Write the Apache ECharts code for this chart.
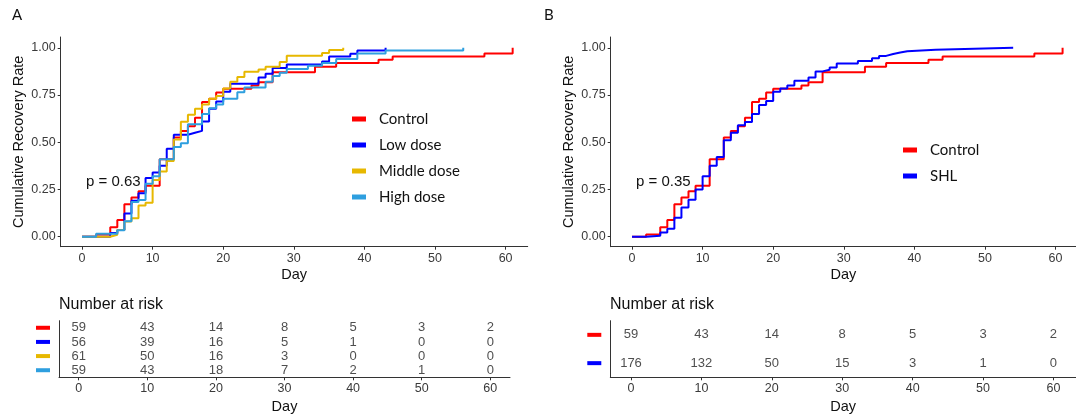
<!DOCTYPE html>
<html><head><meta charset="utf-8">
<script src="https://cdn.jsdelivr.net/npm/echarts@6/dist/echarts.min.js"></script>
<style>html,body{margin:0;padding:0;background:#fff}#c{width:1076px;height:420px}</style>
</head><body><div id="c"></div><script>
// ---- data ----
const ctrlDay  = [0, 2, 4, 5, 6, 7, 8, 9, 11, 13, 14, 15, 16, 17, 18, 19, 20, 24, 25, 27, 33, 36, 42, 44, 57, 61];
const ctrlRate = [0, 0.012, 0.05, 0.088, 0.172, 0.207, 0.24, 0.27, 0.41, 0.525, 0.56, 0.585, 0.63, 0.713, 0.73, 0.763, 0.783, 0.80, 0.818, 0.87, 0.90, 0.92, 0.937, 0.954, 0.97, 1.0];

const lowDay  = [0, 4, 5, 6, 7, 8, 9, 10, 11, 12, 13, 15, 16, 17, 18, 19, 20, 21, 25, 26, 27, 29, 34, 35, 38, 39, 43];
const lowRate = [0, 0.02, 0.035, 0.123, 0.19, 0.23, 0.31, 0.34, 0.375, 0.465, 0.54, 0.55, 0.56, 0.61, 0.677, 0.716, 0.767, 0.81, 0.843, 0.862, 0.893, 0.912, 0.927, 0.954, 0.968, 0.986, 1.0];

const midDay  = [0, 4, 5, 6, 7, 8, 9, 10, 11, 12, 13, 14, 15, 16, 17, 18, 19, 20, 21, 22, 23, 25, 26, 28, 29, 34, 35, 37];
const midRate = [0, 0.01, 0.035, 0.08, 0.097, 0.165, 0.18, 0.30, 0.345, 0.40, 0.515, 0.608, 0.645, 0.677, 0.70, 0.73, 0.745, 0.785, 0.82, 0.845, 0.873, 0.885, 0.90, 0.925, 0.958, 0.972, 0.988, 1.0];

const highDay  = [0, 2, 5, 6, 7, 8, 9, 10, 11, 13, 14, 15, 17, 18, 19, 20, 22, 23, 26, 27, 28, 29, 32, 34, 36, 39, 43, 54];
const highRate = [0, 0.016, 0.034, 0.082, 0.183, 0.194, 0.28, 0.32, 0.41, 0.475, 0.495, 0.595, 0.65, 0.68, 0.70, 0.73, 0.765, 0.79, 0.82, 0.85, 0.868, 0.887, 0.905, 0.92, 0.94, 0.97, 0.986, 1.0];

const shlDay  = [0, 2, 4, 5, 6, 7, 8, 9, 10, 11, 12, 13, 14, 15, 16, 17, 18, 19, 20, 21, 22, 23, 25, 26, 27, 28, 29, 32, 34, 35, 36, 37, 38, 39, 43, 54];
const shlRate = [0, 0.005, 0.022, 0.042, 0.10, 0.155, 0.195, 0.25, 0.32, 0.375, 0.422, 0.51, 0.55, 0.59, 0.607, 0.65, 0.697, 0.718, 0.767, 0.785, 0.80, 0.825, 0.843, 0.875, 0.884, 0.896, 0.917, 0.93, 0.945, 0.957, 0.967, 0.975, 0.982, 0.99, 1.0, 1.0];

const riskTicks = [0, 10, 20, 30, 40, 50, 60];
const riskCtrl = [59, 43, 14, 8, 5, 3, 2];
const riskLow  = [56, 39, 16, 5, 1, 0, 0];
const riskMid  = [61, 50, 16, 3, 0, 0, 0];
const riskHigh = [59, 43, 18, 7, 2, 1, 0];
const riskShl  = [176, 132, 50, 15, 3, 1, 0];

const xTicks = [0, 10, 20, 30, 40, 50, 60];
const yTicks = [0, 0.25, 0.5, 0.75, 1];
const groupsA = ['Control', 'Low dose', 'Middle dose', 'High dose'];
const groupsB = ['Control', 'SHL'];
const pA = 'p = 0.63';
const pB = 'p = 0.35';

// ---- styles ----
const RED = '#FF0000', BLUE = '#0000FF', GOLD = '#E7B800', SKY = '#2E9FDF';
const FONT = "'Liberation Sans', Arial, sans-serif";
const AX = '#333333', TXT = '#3a3a3a';

const pairs = (d, r) => d.map((x, i) => [x, r[i]]);

function xAxisCfg(grid, min, max, gap) {
  return {
    type: 'value', gridIndex: grid, min, max,
    name: 'Day', nameLocation: 'middle', nameGap: gap,
    nameTextStyle: { fontFamily: FONT, fontSize: 14.5, color: '#111' },
    axisLine: { show: true, onZero: false, lineStyle: { color: AX, width: 1 } },
    axisTick: { show: true, length: 3, customValues: xTicks, lineStyle: { color: AX } },
    axisLabel: { customValues: xTicks, margin: 5, fontFamily: FONT, fontSize: 12.5, color: TXT },
    splitLine: { show: false }
  };
}
function yMainCfg(grid) {
  return {
    type: 'value', gridIndex: grid, min: -0.053, max: 1.057,
    name: 'Cumulative Recovery Rate', nameLocation: 'middle', nameGap: 34, nameRotate: 90,
    nameTextStyle: { fontFamily: FONT, fontSize: 14.5, color: '#111' },
    axisLine: { show: true, onZero: false, lineStyle: { color: AX, width: 1 } },
    axisTick: { show: true, length: 3, customValues: yTicks, lineStyle: { color: AX } },
    axisLabel: { customValues: yTicks, margin: 5, fontFamily: FONT, fontSize: 12.5, color: TXT,
      formatter: v => v.toFixed(2) },
    splitLine: { show: false }
  };
}
function yRiskCfg(grid, colors) {
  const rich = {};
  colors.forEach((c, i) => { rich['c' + i] = { backgroundColor: c, width: 14, height: 4, fontSize: 1, lineHeight: 4 }; });
  return {
    type: 'category', gridIndex: grid, inverse: true,
    data: colors.map((c, i) => String(i)),
    axisLine: { show: true, onZero: false, lineStyle: { color: AX, width: 1 } },
    axisTick: { show: false },
    axisLabel: { interval: 0, margin: 9, formatter: (v) => '{c' + v + '| }', rich },
    splitLine: { show: false }
  };
}
function lineSeries(name, xi, yi, data, color) {
  return { name, type: 'line', xAxisIndex: xi, yAxisIndex: yi, step: 'end', data,
    showSymbol: false, symbol: 'none', lineStyle: { width: 2, color }, itemStyle: { color }, z: 3 };
}
function riskSeries(xi, yi, rows) {
  const data = [];
  rows.forEach((arr, r) => arr.forEach((v, i) => data.push([riskTicks[i], r, v])));
  return { type: 'scatter', xAxisIndex: xi, yAxisIndex: yi, data, symbolSize: 1,
    itemStyle: { color: 'rgba(0,0,0,0)' }, silent: true,
    label: { show: true, position: 'inside', formatter: p => String(p.value[2]),
      fontFamily: FONT, fontSize: 13, color: '#222' } };
}
function legendCfg(names, left, top) {
  return { data: names, left, top, orient: 'vertical', icon: 'rect', itemWidth: 14, itemHeight: 5,
    itemGap: 10, selectedMode: false,
    textStyle: { fontFamily: 'Lato', fontSize: 15, color: '#111', lineHeight: 16, padding: [0, 0, 0, 8] } };
}
function txt(x, y, text, size, family) {
  return { type: 'text', x, y, style: { text, fontSize: size, fontFamily: family, fill: '#111', verticalAlign: 'middle', textAlign: 'left' } };
}

const chart = echarts.init(document.getElementById('c'), null, { renderer: 'canvas' });
chart.setOption({
  animation: false,
  backgroundColor: '#fff',
  grid: [
    { left: 60.7, top: 37, width: 467, height: 209.7 },
    { left: 59, top: 320.7, width: 451, height: 56.6 },
    { left: 610.7, top: 37, width: 465.3, height: 209.7 },
    { left: 610.3, top: 320.7, width: 465.7, height: 56.6 }
  ],
  xAxis: [
    xAxisCfg(0, -3.02, 63.13, 21),
    xAxisCfg(1, -2.87, 62.87, 22),
    xAxisCfg(2, -3.02, 62.9, 21),
    xAxisCfg(3, -2.94, 63.2, 22)
  ],
  yAxis: [
    yMainCfg(0),
    yRiskCfg(1, [RED, BLUE, GOLD, SKY]),
    yMainCfg(2),
    yRiskCfg(3, [RED, BLUE])
  ],
  legend: [legendCfg(groupsA, 347, 106), legendCfg(groupsB, 898, 137)],
  series: [
    lineSeries(groupsA[0], 0, 0, pairs(ctrlDay, ctrlRate), RED),
    lineSeries(groupsA[1], 0, 0, pairs(lowDay, lowRate), BLUE),
    lineSeries(groupsA[2], 0, 0, pairs(midDay, midRate), GOLD),
    lineSeries(groupsA[3], 0, 0, pairs(highDay, highRate), SKY),
    riskSeries(1, 1, [riskCtrl, riskLow, riskMid, riskHigh]),
    lineSeries(groupsB[0], 2, 2, pairs(ctrlDay, ctrlRate), RED),
    lineSeries(groupsB[1], 2, 2, pairs(shlDay, shlRate), BLUE),
    riskSeries(3, 3, [riskCtrl, riskShl])
  ],
  graphic: [
    txt(12, 15, 'A', 15, 'Lato'),
    txt(544, 15, 'B', 15, 'Lato'),
    txt(86, 182, pA, 15, FONT),
    txt(636, 182, pB, 15, FONT),
    txt(59, 305, 'Number at risk', 16, FONT),
    txt(610, 305, 'Number at risk', 16, FONT)
  ]
});
</script></body></html>
